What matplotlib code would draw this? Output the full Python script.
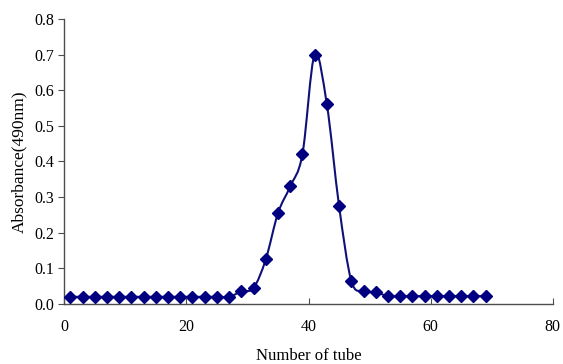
import numpy as np
import matplotlib

matplotlib.use("Agg")
import matplotlib.pyplot as plt
from matplotlib.path import Path
from matplotlib.patches import PathPatch

# tube number (odd tubes collected) and absorbance at 490 nm
tubes = [1, 3, 5, 7, 9, 11, 13, 15, 17, 19, 21, 23, 25, 27, 29, 31, 33, 35,
         37, 39, 41, 43, 45, 47, 49, 51, 53, 55, 57, 59, 61, 63, 65, 67, 69]
absorbance = [0.020, 0.020, 0.020, 0.020, 0.020, 0.020, 0.020, 0.020, 0.020,
              0.020, 0.020, 0.020, 0.020, 0.020, 0.035, 0.045, 0.125, 0.255,
              0.330, 0.420, 0.700, 0.560, 0.275, 0.065, 0.035, 0.033, 0.022,
              0.022, 0.022, 0.022, 0.022, 0.022, 0.022, 0.022, 0.022]

x_ticks = [0, 20, 40, 60, 80]
y_ticks = [0.0, 0.1, 0.2, 0.3, 0.4, 0.5, 0.6, 0.7, 0.8]

NAVY = "#10107a"


def smooth_path(xs, ys):
    """Excel-style smoothed line: Catmull-Rom segments as cubic Beziers."""
    pts = np.column_stack([xs, ys]).astype(float)
    n = len(pts)
    verts = [pts[0]]
    codes = [Path.MOVETO]
    for i in range(n - 1):
        p0 = pts[i - 1] if i > 0 else pts[i]
        p1, p2 = pts[i], pts[i + 1]
        p3 = pts[i + 2] if i + 2 < n else pts[i + 1]
        verts += [p1 + (p2 - p0) / 6, p2 - (p3 - p1) / 6, p2]
        codes += [Path.CURVE4] * 3
    return Path(verts, codes)


plt.rcParams.update({
    "font.family": ["Liberation Serif", "DejaVu Serif"],
    "font.size": 11.5,
})

fig = plt.figure(figsize=(5.63, 3.64), dpi=100)
ax = fig.add_axes([0.114, 0.165, 0.868, 0.783])

ax.add_patch(PathPatch(smooth_path(tubes, absorbance), fill=False,
                       edgecolor=NAVY, lw=1.5, zorder=2))
ax.plot(tubes, absorbance, linestyle="none", marker="D", markersize=6,
        color="#000080", zorder=3)

ax.set_xlim(0, 80)
ax.set_ylim(0, 0.8)
ax.set_xticks(x_ticks)
ax.set_yticks(y_ticks)
ax.set_yticklabels([f"{v:.1f}" for v in y_ticks])

for side in ("top", "right"):
    ax.spines[side].set_visible(False)
for side in ("left", "bottom"):
    ax.spines[side].set_color("0.3")
    ax.spines[side].set_linewidth(1.0)

ax.tick_params(axis="x", direction="in", length=4, color="0.3", pad=11)
ax.tick_params(axis="y", direction="out", length=4, color="0.3", pad=3)

ax.set_xlabel("Number of tube", fontsize=12, labelpad=9)
ax.set_ylabel("Absorbance(490nm)", fontsize=12.5, labelpad=5)

fig.savefig("out.png", dpi=100)
